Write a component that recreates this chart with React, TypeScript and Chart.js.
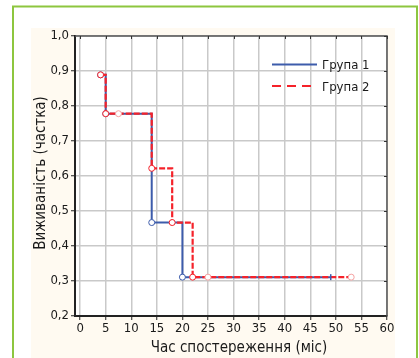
import React, { useEffect, useRef } from 'react';
import { Chart, registerables } from 'chart.js';

Chart.register(...registerables);

const FONT = '"DejaVu Sans Condensed", "Liberation Sans", sans-serif';

// Kaplan–Meier step points (time in months, survival fraction)
const group1Times = [4, 5, 14, 20, 49];
const group1Surv = [0.889, 0.778, 0.467, 0.311, 0.311];
const group2Times = [4, 5, 14, 18, 22, 53];
const group2Surv = [0.889, 0.778, 0.622, 0.467, 0.311, 0.311];

// censored observations
const group1CensTimes = [49];
const group1CensSurv = [0.311];
const group2CensTimes = [7.5, 25, 53];
const group2CensSurv = [0.778, 0.311, 0.311];

const xTicks = [0, 5, 10, 15, 20, 25, 30, 35, 40, 45, 50, 55, 60];
const yTicks = [0.2, 0.3, 0.4, 0.5, 0.6, 0.7, 0.8, 0.9, 1.0];

const seriesNames = ['Група 1', 'Група 2'];
const xTitle = 'Час спостереження (міс)';
const yTitle = 'Виживаність (частка)';

const BLUE = '#3d5cab';
const RED = '#f5222a';
const TEXT = '#1a1a1a';

const decor = {
  id: 'decor',
  beforeDraw(chart: any) {
    const { ctx, chartArea: a } = chart;
    ctx.save();
    ctx.fillStyle = '#ffffff';
    ctx.fillRect(0, 0, chart.width, chart.height);
    ctx.fillStyle = '#fffaf1';
    ctx.fillRect(31, 28, 364, 340);
    ctx.strokeStyle = '#8dc63f';
    ctx.lineWidth = 2;
    ctx.strokeRect(13, 6.5, 404, 400);
    ctx.fillStyle = '#ffffff';
    ctx.fillRect(a.left, a.top, a.right - a.left, a.bottom - a.top);
    ctx.restore();
  },
  beforeDatasetsDraw(chart: any) {
    const { ctx, chartArea: a, scales } = chart;
    ctx.save();
    ctx.strokeStyle = '#555';
    ctx.lineWidth = 1.5;
    ctx.beginPath();
    ctx.moveTo(a.left, a.top);
    ctx.lineTo(a.right, a.top);
    ctx.lineTo(a.right, a.bottom);
    ctx.stroke();
    ctx.strokeStyle = '#333';
    ctx.lineWidth = 1;
    ctx.beginPath();
    xTicks.forEach((v) => {
      const px = Math.round(scales.x.getPixelForValue(v)) + 0.5;
      ctx.moveTo(px, a.top);
      ctx.lineTo(px, a.top + 3);
    });
    yTicks.forEach((v) => {
      const py = Math.round(scales.y.getPixelForValue(v)) + 0.5;
      ctx.moveTo(a.right, py);
      ctx.lineTo(a.right - 3, py);
    });
    ctx.stroke();
    ctx.restore();
  },
  afterDraw(chart: any) {
    const { ctx } = chart;
    ctx.save();
    // legend
    ctx.lineWidth = 2;
    ctx.strokeStyle = BLUE;
    ctx.setLineDash([]);
    ctx.beginPath();
    ctx.moveTo(272, 64.5);
    ctx.lineTo(317, 64.5);
    ctx.stroke();
    ctx.strokeStyle = RED;
    ctx.setLineDash([9, 6]);
    ctx.beginPath();
    ctx.moveTo(272, 86);
    ctx.lineTo(317, 86);
    ctx.stroke();
    ctx.setLineDash([]);
    ctx.fillStyle = TEXT;
    ctx.font = `13px ${FONT}`;
    ctx.textAlign = 'left';
    ctx.textBaseline = 'alphabetic';
    ctx.fillText(seriesNames[0], 322, 68.5);
    ctx.fillText(seriesNames[1], 322, 90.5);
    // axis titles
    ctx.font = `15px ${FONT}`;
    ctx.textAlign = 'center';
    ctx.fillText(xTitle, 239, 352);
    ctx.translate(45, 173);
    ctx.rotate(-Math.PI / 2);
    ctx.fillText(yTitle, 0, 0);
    ctx.restore();
  },
};

export default function App() {
  const ref = useRef<HTMLCanvasElement>(null);
  useEffect(() => {
    const tickFont = { family: FONT, size: 13 };
    const chart = new Chart(ref.current as HTMLCanvasElement, {
      type: 'line',
      data: {
        datasets: [
          {
            label: seriesNames[1] + ' cens',
            data: group2CensTimes.map((t, i) => ({ x: t, y: group2CensSurv[i] })),
            showLine: false,
            pointStyle: 'circle',
            pointRadius: 3,
            pointBackgroundColor: '#ffffff',
            pointBorderColor: '#f6a3a3',
            pointBorderWidth: 1,
            order: -1,
          },
          {
            label: seriesNames[0] + ' cens',
            data: group1CensTimes.map((t, i) => ({ x: t, y: group1CensSurv[i] })),
            showLine: false,
            pointStyle: 'line',
            rotation: 90,
            pointRadius: 3,
            pointBorderColor: BLUE,
            pointBorderWidth: 1.5,
            order: -2,
          },
          {
            label: seriesNames[1],
            data: group2Times.map((t, i) => ({ x: t, y: group2Surv[i] })),
            stepped: 'before',
            borderColor: RED,
            borderWidth: 2.2,
            borderDash: [6, 2],
            pointRadius: group2Times.map((_, i) => (i === group2Times.length - 1 ? 0 : 3)),
            pointBackgroundColor: '#ffffff',
            pointBorderColor: RED,
            pointBorderWidth: 1,
            fill: false,
            order: 0,
          },
          {
            label: seriesNames[0],
            data: group1Times.map((t, i) => ({ x: t, y: group1Surv[i] })),
            stepped: 'before',
            borderColor: BLUE,
            borderWidth: 2,
            pointRadius: group1Times.map((_, i) => (i === group1Times.length - 1 ? 0 : 3)),
            pointBackgroundColor: '#ffffff',
            pointBorderColor: BLUE,
            pointBorderWidth: 1,
            fill: false,
            order: 1,
          },
        ],
      },
      options: {
        responsive: false,
        animation: false,
        devicePixelRatio: 1,
        events: [],
        layout: { padding: { left: 0, top: 36, right: 32, bottom: 0 } },
        plugins: { legend: { display: false }, tooltip: { enabled: false }, title: { display: false } },
        scales: {
          x: {
            type: 'linear',
            min: -1,
            max: 60,
            afterFit: (s: any) => {
              s.height = 42;
            },
            afterBuildTicks: (s: any) => {
              s.ticks = xTicks.map((v) => ({ value: v }));
            },
            ticks: { font: tickFont, color: TEXT, padding: 1, maxRotation: 0, autoSkip: false },
            grid: { color: '#c9c9c9', lineWidth: 1.5, tickLength: 4, tickColor: '#222', tickWidth: 1 },
            border: { display: true, color: '#222', width: 2 },
          },
          y: {
            type: 'linear',
            min: 0.2,
            max: 1.0,
            afterFit: (s: any) => {
              s.width = 75;
            },
            afterBuildTicks: (s: any) => {
              s.ticks = yTicks.map((v) => ({ value: v }));
            },
            ticks: {
              font: tickFont,
              color: TEXT,
              padding: 2,
              callback: (v: any) => Number(v).toFixed(1).replace('.', ','),
            },
            grid: { color: '#c9c9c9', lineWidth: 1.5, tickLength: 4, tickColor: '#222', tickWidth: 1 },
            border: { display: true, color: '#222', width: 2 },
          },
        },
      } as any,
      plugins: [decor],
    });
    return () => chart.destroy();
  }, []);
  return (
    <div style={{ position: 'absolute', left: 0, top: 0, width: 419, height: 358 }}>
      <canvas ref={ref} width={419} height={358} style={{ display: 'block', width: 419, height: 358 }} />
    </div>
  );
}
